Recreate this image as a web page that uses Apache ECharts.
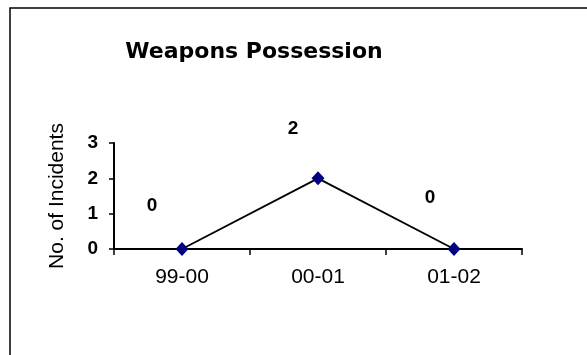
<!DOCTYPE html>
<html>
<head>
<meta charset="utf-8">
<script src="https://cdn.jsdelivr.net/npm/echarts@6/dist/echarts.min.js"></script>
<style>
  html, body { margin: 0; padding: 0; background: #fff; }
  #chart { width: 587px; height: 355px; }
</style>
</head>
<body>
<div id="chart"></div>
<script>
const categories = ['99-00', '00-01', '01-02']
const incidents = [0, 2, 0]
const yTicks = { min: 0, max: 3, interval: 1 }

// where each value label sits relative to its marker (px)
const labelOffsets = [[-30, -43], [-25, -50], [-24, -51]]

const FONT = '"Liberation Sans", Arial, sans-serif'
const MARKER = '#000080'

const chart = echarts.init(document.getElementById('chart'))

chart.setOption({
  backgroundColor: '#fff',
  animation: false,
  textStyle: { fontFamily: FONT, color: '#000' },
  title: {
    text: 'Weapons Possession',
    left: 254, top: 41, padding: 0,
    textAlign: 'center',
    textStyle: { fontFamily: '"DejaVu Sans", sans-serif', fontSize: 22, fontWeight: 'bold', color: '#000' },
  },
  grid: { left: 114, right: 65, top: 143, bottom: 106 },
  xAxis: {
    type: 'category', data: categories, boundaryGap: true,
    axisLine: { lineStyle: { color: '#000', width: 2 } },
    axisTick: { show: true, length: 6, lineStyle: { color: '#000', width: 1.5 } },
    axisLabel: { fontFamily: FONT, fontSize: 21, color: '#000', margin: 18 },
    splitLine: { show: false },
  },
  yAxis: {
    type: 'value', min: yTicks.min, max: yTicks.max, interval: yTicks.interval,
    name: 'No. of Incidents', nameLocation: 'middle', nameRotate: 90, nameGap: 46,
    nameTextStyle: { fontFamily: FONT, fontSize: 21, color: '#000' },
    axisLine: { show: true, lineStyle: { color: '#000', width: 2 } },
    axisTick: { show: true, length: 5, lineStyle: { color: '#000', width: 1.5 } },
    axisLabel: { fontFamily: FONT, fontSize: 19, fontWeight: 'bold', color: '#000', margin: 16 },
    splitLine: { show: false },
  },
  graphic: [{
    type: 'polyline', silent: true,
    shape: { points: [[10, 355], [10, 8], [587, 8]] },
    style: { stroke: '#000', lineWidth: 1.5, fill: null },
  }],
  series: [{
    type: 'line',
    data: incidents.map((v, i) => ({
      value: v,
      label: { offset: labelOffsets[i] },
    })),
    symbol: 'diamond', symbolSize: [13, 14],
    itemStyle: { color: MARKER },
    lineStyle: { color: '#000', width: 1.8 },
    label: {
      show: true, position: 'inside',
      fontFamily: FONT, fontSize: 19, fontWeight: 'bold', color: '#000',
    },
  }],
})
</script>
</body>
</html>
